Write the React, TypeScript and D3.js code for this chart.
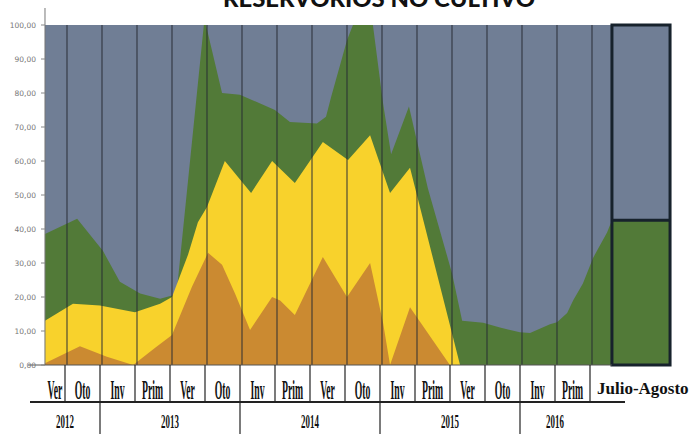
import React from "react";
import * as d3 from "d3";

// ---- data (x in season units, values in %) ----
const seasons = ["Ver", "Oto", "Inv", "Prim", "Ver", "Oto", "Inv", "Prim", "Ver", "Oto", "Inv", "Prim", "Ver", "Oto", "Inv", "Prim"];
const years = ["2012", "2013", "2014", "2015", "2016"];
const yearStart = [0, 2, 6, 10, 14];
const yearEnd = [2, 6, 10, 14, 16];
const yTicks = [0, 10, 20, 30, 40, 50, 60, 70, 80, 90, 100];
const yTickLabels = ["0,00", "10,00", "20,00", "30,00", "40,00", "50,00", "60,00", "70,00", "80,00", "90,00", "100,00"];
const extraLabel = "Julio-Agosto";
const extraGreen = 42.6;

const greenX = [0.37, 1.29, 2.03, 2.51, 3.09, 3.66, 4.03, 4.14, 4.91, 4.97, 5.43, 5.94, 6.94, 7.37, 8.14, 8.4, 8.55, 9.0, 9.17, 9.74, 10.03, 10.26, 10.77, 11.31, 12.0, 12.29, 12.89, 13.37, 13.94, 14.23, 14.8, 15.0, 15.29, 15.46, 15.74, 16.03, 16.43, 16.57];
const greenY = [38.5, 43, 33.5, 24.5, 21, 19.5, 20.5, 22, 100, 100, 80, 79.5, 75, 71.5, 71, 73, 79, 95.5, 100, 100, 77, 62, 76, 52, 27, 13, 12.4, 11, 9.6, 9.4, 12, 12.6, 15.3, 19, 24, 31.5, 39, 42.6];

const yellowX = [0.37, 1.17, 1.94, 2.94, 3.66, 4.0, 4.46, 4.74, 5.0, 5.51, 6.26, 6.86, 7.51, 8.31, 9.03, 9.66, 10.23, 10.8, 12.23, 16.57];
const yellowY = [13, 18, 17.5, 15.5, 18, 20, 32.5, 42, 46.5, 60, 50.6, 60, 53.5, 65.6, 60.3, 67.6, 50.6, 58, 0, 0];

const orangeX = [0.37, 1.37, 2.14, 2.89, 3.51, 4.0, 4.57, 5.03, 5.43, 5.8, 6.23, 6.86, 7.09, 7.51, 8.31, 9.0, 9.66, 10.03, 10.23, 10.8, 11.94, 16.57];
const orangeY = [0.5, 5.5, 2.4, 0, 5, 8.8, 23, 33, 29.5, 21, 10.3, 20, 19, 14.7, 31.8, 20, 30, 12.4, 0, 17, 0, 0];

const GRAY = "#707e95";
const GREEN = "#527a38";
const YELLOW = "#f8d22c";
const ORANGE = "#cb8a31";

export default function App() {
  const W = 693, H = 434;
  const x = d3.scaleLinear().domain([0, 16]).range([32, 592]);
  const y = d3.scaleLinear().domain([0, 100]).range([365, 25]);
  const xStart = 0.371, xEnd = 16.57, boxEnd = 18.23;

  const area = d3.area<[number, number]>()
    .x((d) => x(d[0]))
    .y0(y(0))
    .y1((d) => y(d[1]));
  const zip = (a: number[], b: number[]) => a.map((v, i) => [v, b[i]] as [number, number]);

  const tableTop = 365, tableMid = 402, tableBot = 434;
  const dividerX = (k: number) => x(k) - 2;

  return (
    <svg width={W} height={H} style={{ position: "fixed", left: 0, top: 0, background: "#fff" }}>
      {/* title */}
      <text x={379} y={7} textAnchor="middle" fontFamily="Lato" fontWeight="900" fontSize={22} textLength={312} lengthAdjust="spacingAndGlyphs" fill="#111">
        RESERVORIOS NO CULTIVO
      </text>

      {/* plot background */}
      <rect x={x(xStart)} y={y(100)} width={x(xEnd) - x(xStart)} height={y(0) - y(100)} fill={GRAY} />
      <path d={area(zip(greenX, greenY)) || ""} fill={GREEN} />
      <path d={area(zip(yellowX, yellowY)) || ""} fill={YELLOW} />
      <path d={area(zip(orangeX, orangeY)) || ""} fill={ORANGE} />

      {/* vertical season lines */}
      {d3.range(1, 17).map((k) => (
        <line key={k} x1={x(k)} x2={x(k)} y1={y(100)} y2={y(0)} stroke="#262b33" strokeOpacity={0.6} strokeWidth={1.6} />
      ))}

      {/* Julio-Agosto box */}
      <rect x={x(xEnd)} y={y(100)} width={x(boxEnd) - x(xEnd)} height={y(extraGreen) - y(100)} fill={GRAY} />
      <rect x={x(xEnd)} y={y(extraGreen)} width={x(boxEnd) - x(xEnd)} height={y(0) - y(extraGreen)} fill={GREEN} />
      <rect x={x(xEnd)} y={y(100)} width={x(boxEnd) - x(xEnd)} height={y(0) - y(100)} fill="none" stroke="#17222c" strokeWidth={3} />
      <line x1={x(xEnd)} x2={x(boxEnd)} y1={y(extraGreen)} y2={y(extraGreen)} stroke="#17222c" strokeWidth={3} />

      {/* y axis */}
      <line x1={x(xStart)} x2={x(xStart)} y1={8} y2={y(0)} stroke="#777" strokeWidth={1} />
      <line x1={28} x2={x(xEnd)} y1={y(0)} y2={y(0)} stroke="#555" strokeWidth={1} />
      {yTicks.map((t, i) => (
        <g key={t}>
          <line x1={x(xStart) - 4} x2={x(xStart)} y1={y(t)} y2={y(t)} stroke="#888" />
          <text x={36} y={y(t)} dy="0.35em" textAnchor="end" fontFamily="DejaVu Sans" fontSize={7.5} fill="#777">
            {yTickLabels[i]}
          </text>
        </g>
      ))}

      {/* table */}
      {d3.range(1, 17).map((k) => (
        <line key={"d" + k} x1={dividerX(k)} x2={dividerX(k)} y1={tableTop} y2={tableMid} stroke="#222" strokeWidth={1.2} />
      ))}
      <line x1={30} x2={625} y1={tableMid} y2={tableMid} stroke="#222" strokeWidth={2} />
      {yearStart.slice(1).map((k) => (
        <line key={"y" + k} x1={dividerX(k)} x2={dividerX(k)} y1={tableMid} y2={tableBot} stroke="#222" strokeWidth={1.2} />
      ))}
      {seasons.map((s, k) => {
        const cx = k === 0 ? (x(xStart) + dividerX(1)) / 2 : (dividerX(k) + dividerX(k + 1)) / 2;
        return (
          <text key={"s" + k} transform={`translate(${cx},399) scale(0.36,1)`} textAnchor="middle" fontFamily="Liberation Serif" fontWeight="bold" fontSize={27} fill="#111">
            {s}
          </text>
        );
      })}
      {years.map((yr, i) => {
        const a = i === 0 ? 30 : dividerX(yearStart[i]);
        const b = dividerX(yearEnd[i]);
        return (
          <text key={yr} transform={`translate(${(a + b) / 2},428) scale(0.47,1)`} textAnchor="middle" fontFamily="Liberation Serif" fontWeight="bold" fontSize={19} fill="#111">
            {yr}
          </text>
        );
      })}
      <text x={597} y={394} fontFamily="Liberation Serif" fontWeight="bold" fontSize={17} fill="#111">
        {extraLabel}
      </text>
    </svg>
  );
}
